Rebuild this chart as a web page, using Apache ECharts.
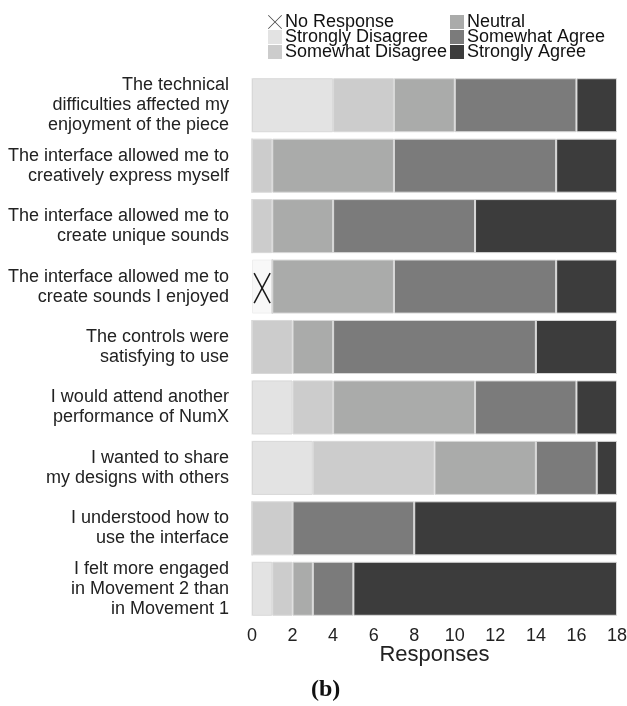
<!DOCTYPE html>
<html>
<head>
<meta charset="utf-8">
<script src="https://cdn.jsdelivr.net/npm/echarts@6/dist/echarts.min.js"></script>
<style>
html,body{margin:0;padding:0;background:#fff;}
#chart{width:627px;height:706px;}
</style>
</head>
<body>
<div id="chart"></div>
<script>
const categories = [
  "The technical\ndifficulties affected my\nenjoyment of the piece",
  "The interface allowed me to\ncreatively express myself",
  "The interface allowed me to\ncreate unique sounds",
  "The interface allowed me to\ncreate sounds I enjoyed",
  "The controls were\nsatisfying to use",
  "I would attend another\nperformance of NumX",
  "I wanted to share\nmy designs with others",
  "I understood how to\nuse the interface",
  "I felt more engaged\nin Movement 2 than\nin Movement 1"
];
const noResponse        = [0, 0, 0, 1, 0, 0, 0, 0, 0];
const stronglyDisagree  = [4, 0, 0, 0, 0, 2, 3, 0, 1];
const somewhatDisagree  = [3, 1, 1, 0, 2, 2, 6, 2, 1];
const neutral           = [3, 6, 3, 6, 2, 7, 5, 0, 1];
const somewhatAgree     = [6, 8, 7, 8, 10, 5, 3, 6, 2];
const stronglyAgree     = [2, 3, 7, 3, 4, 2, 1, 10, 13];
const xTicks = [0, 2, 4, 6, 8, 10, 12, 14, 16, 18];

const seriesNames = ["No Response", "Strongly Disagree", "Somewhat Disagree", "Neutral", "Somewhat Agree", "Strongly Agree"];
const seriesData = [noResponse, stronglyDisagree, somewhatDisagree, neutral, somewhatAgree, stronglyAgree];
const colors = ["#f8f8f8", "#e3e3e3", "#cccccc", "#aaabaa", "#7b7b7b", "#3c3c3c"];

const FONT = "'Liberation Sans', Arial, Helvetica, sans-serif";
const xPath = 'path://M0,4L4,0L50,46L96,0L100,4L54,50L100,96L96,100L50,54L4,100L0,96L46,50Z';

const barSeries = seriesNames.map((n, i) => ({
  name: n,
  type: 'bar',
  stack: 'total',
  barCategoryGap: '10.6%',
  data: seriesData[i],
  itemStyle: { color: colors[i], borderColor: i === 0 ? '#efefef' : '#d8d8d8', borderWidth: 1 },
  emphasis: { disabled: true },
  silent: true
}));

const markData = [];
noResponse.forEach((v, i) => { if (v > 0) markData.push([v, i]); });

const xMarkSeries = {
  name: 'NR-mark',
  type: 'custom',
  data: markData,
  encode: { x: 0, y: 1 },
  z: 5,
  silent: true,
  renderItem: function (params, api) {
    const v = api.value(0), idx = api.value(1);
    const p0 = api.coord([0, idx]);
    const p1 = api.coord([v, idx]);
    const cx = (p0[0] + p1[0]) / 2;
    const cy = p0[1] + 1.5;
    const hw = 8, hh = 15;
    const st = { stroke: '#1a1a1a', lineWidth: 1.5, fill: null };
    return {
      type: 'group',
      children: [
        { type: 'line', shape: { x1: cx - hw, y1: cy - hh, x2: cx + hw, y2: cy + hh }, style: st },
        { type: 'line', shape: { x1: cx + hw, y1: cy - hh, x2: cx - hw, y2: cy + hh }, style: st }
      ]
    };
  }
};

const legendPos = [
  { left: 268, top: 13 },
  { left: 268, top: 28 },
  { left: 268, top: 43 },
  { left: 450, top: 13 },
  { left: 450, top: 28 },
  { left: 450, top: 43 }
];

const legends = seriesNames.map((n, i) => {
  const item = { name: n };
  if (i === 0) { item.icon = xPath; item.itemStyle = { color: '#444', borderWidth: 0 }; }
  else { item.icon = 'rect'; item.itemStyle = { color: colors[i], borderWidth: 0 }; }
  return {
    data: [item],
    left: legendPos[i].left,
    top: legendPos[i].top,
    padding: 0,
    itemWidth: 14,
    itemHeight: 14,
    selectedMode: false,
    itemStyle: { borderWidth: 0 },
    textStyle: { fontFamily: FONT, fontSize: 18, color: '#111', lineHeight: 14, padding: [0, 0, 0, -2] }
  };
});

const option = {
  animation: false,
  backgroundColor: '#ffffff',
  legend: legends,
  grid: { left: 252, right: 10, top: 75, bottom: 87, outerBoundsMode: 'none', containLabel: false },
  xAxis: {
    type: 'value',
    min: xTicks[0],
    max: xTicks[xTicks.length - 1],
    interval: xTicks[1] - xTicks[0],
    axisLine: { show: false },
    axisTick: { show: false },
    splitLine: { show: false },
    axisLabel: { fontFamily: FONT, fontSize: 18, color: '#222', margin: 8, hideOverlap: false },
    name: 'Responses',
    nameLocation: 'middle',
    nameGap: 25,
    nameMoveOverlap: false,
    nameTextStyle: { fontFamily: FONT, fontSize: 22, color: '#222', lineHeight: 22 }
  },
  yAxis: {
    type: 'category',
    data: categories,
    inverse: true,
    axisLine: { show: false },
    axisTick: { show: false },
    axisLabel: { fontFamily: FONT, fontSize: 18, color: '#222', lineHeight: 20, align: 'right', margin: 23 }
  },
  graphic: [
    {
      type: 'text',
      left: 311,
      top: 678,
      style: { text: '(b)', fontFamily: "'Liberation Serif', 'Times New Roman', serif", fontWeight: 'bold', fontSize: 24, fill: '#111' }
    }
  ],
  series: barSeries.concat([xMarkSeries])
};

const chart = echarts.init(document.getElementById('chart'), null, { renderer: 'canvas' });
chart.setOption(option);
</script>
</body>
</html>
